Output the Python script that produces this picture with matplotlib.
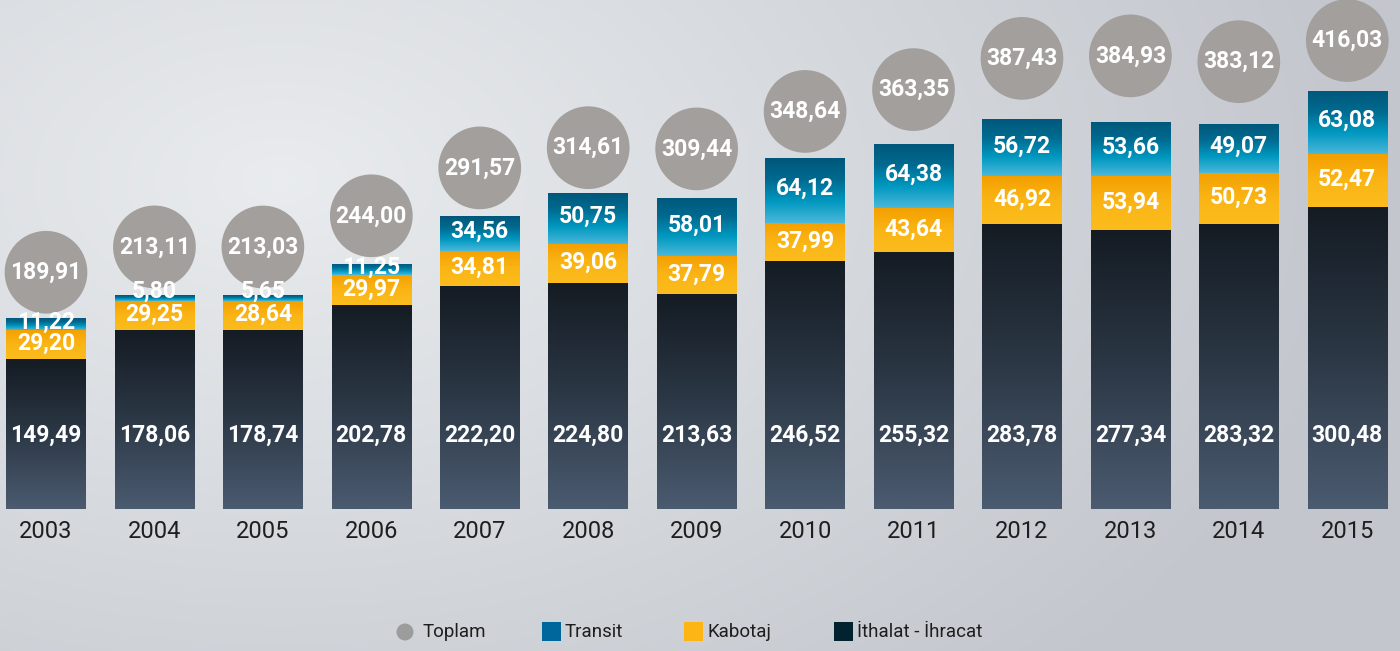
import numpy as np
import matplotlib
matplotlib.use('Agg')
import matplotlib.pyplot as plt
from matplotlib.colors import LinearSegmentedColormap
from matplotlib.patches import Ellipse, Rectangle

# veriler
years = ['2003', '2004', '2005', '2006', '2007', '2008', '2009',
         '2010', '2011', '2012', '2013', '2014', '2015']
ithalat = [149.49, 178.06, 178.74, 202.78, 222.20, 224.80, 213.63,
           246.52, 255.32, 283.78, 277.34, 283.32, 300.48]
kabotaj = [29.20, 29.25, 28.64, 29.97, 34.81, 39.06, 37.79,
           37.99, 43.64, 46.92, 53.94, 50.73, 52.47]
transit = [11.22, 5.80, 5.65, 11.25, 34.56, 50.75, 58.01,
           64.12, 64.38, 56.72, 53.66, 49.07, 63.08]
toplam = [189.91, 213.11, 213.03, 244.00, 291.57, 314.61, 309.44,
          348.64, 363.35, 387.43, 384.93, 383.12, 416.03]
# dairelerin sütun üstünden yüksekliği (piksel)
circle_lift = [46, 48, 48, 48, 48, 45, 49, 47, 54, 61, 66, 62, 50]

def fmt(v):
    return f"{v:.2f}".replace('.', ',')

W, H = 1400, 651
fig = plt.figure(figsize=(W / 100, H / 100), dpi=100)

# arka plan
bg_ax = fig.add_axes([0, 0, 1, 1])
bg_ax.set_axis_off()
yy, xx = np.mgrid[0:H, 0:W]
d = np.sqrt(((xx - 280) / 1100.0) ** 2 + ((yy - 180) / 700.0) ** 2)
d = np.clip(d, 0, 1)
light = np.array([0.915, 0.925, 0.935])
dark = np.array([0.765, 0.78, 0.805])
img = light[None, None, :] * (1 - d[..., None]) + dark[None, None, :] * d[..., None]
bg_ax.imshow(img, extent=[0, W, H, 0], aspect='auto')
bg_ax.set_xlim(0, W)
bg_ax.set_ylim(H, 0)

ax = fig.add_axes([0, 0, 1, 1])
ax.set_facecolor('none')
ax.set_axis_off()

X0, DX = 46.0, 108.44
Y0, SY = 509.5, 1.007

def px_x(p):
    return (p - X0) / DX

def px_y(p):
    return (Y0 - p) / SY

x = np.arange(len(years))
bw = 79.5 / DX

cm_dark = LinearSegmentedColormap.from_list('d', ['#4b5b70', '#2c3846', '#141b23'])
cm_orng = LinearSegmentedColormap.from_list('o', ['#fcbc1e', '#fab515', '#f49f00'])
cm_blue = LinearSegmentedColormap.from_list('b', ['#4ab8da', '#0098c0', '#006a90', '#00577a'])
grad = np.linspace(0, 1, 256).reshape(-1, 1)

def gradient_bars(bars, cmap):
    for p in bars:
        x0, y0 = p.get_x(), p.get_y()
        im = ax.imshow(grad, cmap=cmap, origin='lower', aspect='auto',
                       extent=[x0, x0 + p.get_width(), y0, y0 + p.get_height()],
                       zorder=2)
        im.set_clip_path(p)
        p.set_alpha(0)

ith = np.array(ithalat)
kab = np.array(kabotaj)
tra = np.array(transit)

b1 = ax.bar(x, ith, bw, color='#1d2630', zorder=1)
b2 = ax.bar(x, kab, bw, bottom=ith, color='#fbb515', zorder=1)
b3 = ax.bar(x, tra, bw, bottom=ith + kab, color='#0090b8', zorder=1)
gradient_bars(b1, cm_dark)
gradient_bars(b2, cm_orng)
gradient_bars(b3, cm_blue)
ax.set_xlim(-X0 / DX, (W - X0) / DX)
ax.set_ylim(-(H - Y0) / SY, Y0 / SY)

lbl = dict(color='white', fontsize=16.5, fontweight='bold', family='Roboto',
           ha='center', va='center', zorder=5)
for i in range(len(years)):
    top = ith[i] + kab[i] + tra[i]
    ax.text(x[i], px_y(435), fmt(ithalat[i]), **lbl)
    ax.text(x[i], ith[i] + kab[i] / 2 + 1, fmt(kabotaj[i]), **lbl)
    ty = ith[i] + kab[i] + tra[i] / 2 + 2 if tra[i] > 8 else top + 4
    ax.text(x[i], ty, fmt(transit[i]), **lbl)
    cy = toplam[i] + circle_lift[i] / SY
    ax.add_patch(Ellipse((x[i], cy), 82.7 / DX, 82.7 / SY,
                         facecolor='#a39f9c', edgecolor='none', zorder=4))
    ax.text(x[i], cy, fmt(toplam[i]), **lbl)
    ax.text(x[i], px_y(531), years[i], color='#1e1e1e', fontsize=17,
            family='Roboto', ha='center', va='center', zorder=5)

# lejant
leg_y = px_y(632)
lt = dict(color='#1e1e1e', fontsize=13.5, family='Roboto', ha='left',
          va='center', zorder=5)
ax.add_patch(Ellipse((px_x(405), leg_y), 17 / DX, 17 / SY,
                     facecolor='#9c9c9c', edgecolor='none', zorder=5))
ax.text(px_x(423), leg_y, 'Toplam', **lt)
for sx, col, name in [(542, '#00679d', 'Transit'),
                      (684, '#fdb515', 'Kabotaj'),
                      (834, '#00232f', 'İthalat - İhracat')]:
    ax.add_patch(Rectangle((px_x(sx), px_y(641)), 19 / DX, 19 / SY,
                           facecolor=col, edgecolor='none', zorder=5))
    ax.text(px_x(sx + 23), leg_y, name, **lt)

fig.savefig('out.png', dpi=100)
